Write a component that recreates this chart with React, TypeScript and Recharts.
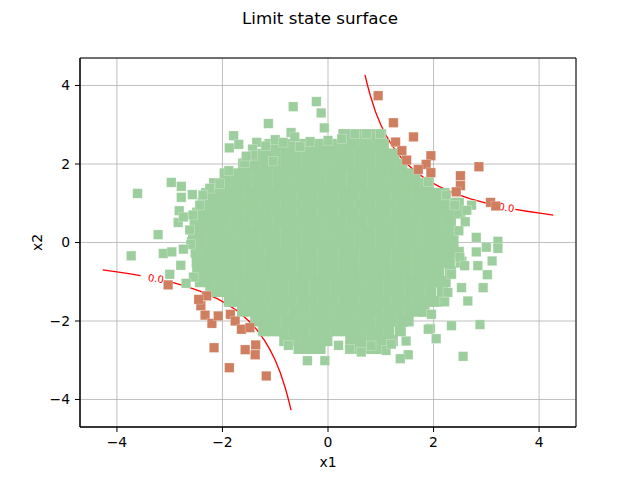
import React from "react";
import { ScatterChart, Scatter, XAxis, YAxis, CartesianGrid, ReferenceArea, ReferenceDot } from "recharts";

type Pt = { x: number; y: number };

const axisTicks = [-4, -2, 0, 2, 4];

// dense centre of the sample, one row per x2 level: [x2, x1 values]
const coreRows: [number, number[]][] = [
  [2.75, [0.3, 0.5, 0.7, 0.9, 1.0]],
  [2.5, [-1.1, -0.9, -0.7, -0.5, -0.3, -0.1, 0.1, 0.3, 0.5, 0.7, 0.9, 1.05]],
  [2.25, [-1.4, -1.2, -1.0, -0.8, -0.6, -0.4, -0.2, 0, 0.2, 0.4, 0.6, 0.8, 1.0, 1.2, 1.25]],
  [2.0, [-1.6, -1.4, -1.2, -1.0, -0.8, -0.6, -0.4, -0.2, 0, 0.2, 0.4, 0.6, 0.8, 1.0, 1.2, 1.4]],
  [1.75, [-1.95, -1.75, -1.55, -1.35, -1.15, -0.95, -0.75, -0.55, -0.35, -0.15, 0.05, 0.25, 0.45, 0.65, 0.85, 1.05, 1.25, 1.45, 1.65]],
  [1.5, [-2.15, -1.95, -1.75, -1.55, -1.35, -1.15, -0.95, -0.75, -0.55, -0.35, -0.15, 0.05, 0.25, 0.45, 0.65, 0.85, 1.05, 1.25, 1.45, 1.65, 1.85, 1.9]],
  [1.25, [-2.3, -2.1, -1.9, -1.7, -1.5, -1.3, -1.1, -0.9, -0.7, -0.5, -0.3, -0.1, 0.1, 0.3, 0.5, 0.7, 0.9, 1.1, 1.3, 1.5, 1.7, 1.9, 2.1, 2.2]],
  [1.0, [-2.37, -2.2, -2.0, -1.8, -1.6, -1.4, -1.2, -1.0, -0.8, -0.6, -0.4, -0.2, 0, 0.2, 0.4, 0.6, 0.8, 1.0, 1.2, 1.4, 1.6, 1.8, 2.0, 2.2, 2.4, 2.47]],
  [0.75, [-2.47, -2.3, -2.1, -1.9, -1.7, -1.5, -1.3, -1.1, -0.9, -0.7, -0.5, -0.3, -0.1, 0.1, 0.3, 0.5, 0.7, 0.9, 1.1, 1.3, 1.5, 1.7, 1.9, 2.1, 2.3, 2.5]],
  [0.5, [-2.52, -2.35, -2.15, -1.95, -1.75, -1.55, -1.35, -1.15, -0.95, -0.75, -0.55, -0.35, -0.15, 0.05, 0.25, 0.45, 0.65, 0.85, 1.05, 1.25, 1.45, 1.65, 1.85, 2.05, 2.25, 2.32]],
  [0.25, [-2.55, -2.4, -2.2, -2.0, -1.8, -1.6, -1.4, -1.2, -1.0, -0.8, -0.6, -0.4, -0.2, 0, 0.2, 0.4, 0.6, 0.8, 1.0, 1.2, 1.4, 1.6, 1.8, 2.0, 2.2, 2.37]],
  [0.0, [-2.57, -2.4, -2.2, -2.0, -1.8, -1.6, -1.4, -1.2, -1.0, -0.8, -0.6, -0.4, -0.2, 0, 0.2, 0.4, 0.6, 0.8, 1.0, 1.2, 1.4, 1.6, 1.8, 2.0, 2.2, 2.37]],
  [-0.25, [-2.5, -2.3, -2.1, -1.9, -1.7, -1.5, -1.3, -1.1, -0.9, -0.7, -0.5, -0.3, -0.1, 0.1, 0.3, 0.5, 0.7, 0.9, 1.1, 1.3, 1.5, 1.7, 1.9, 2.1, 2.3, 2.47]],
  [-0.5, [-2.48, -2.3, -2.1, -1.9, -1.7, -1.5, -1.3, -1.1, -0.9, -0.7, -0.5, -0.3, -0.1, 0.1, 0.3, 0.5, 0.7, 0.9, 1.1, 1.3, 1.5, 1.7, 1.9, 2.1, 2.3, 2.52]],
  [-0.75, [-2.47, -2.3, -2.1, -1.9, -1.7, -1.5, -1.3, -1.1, -0.9, -0.7, -0.5, -0.3, -0.1, 0.1, 0.3, 0.5, 0.7, 0.9, 1.1, 1.3, 1.5, 1.7, 1.9, 2.1, 2.32]],
  [-1.0, [-2.42, -2.25, -2.05, -1.85, -1.65, -1.45, -1.25, -1.05, -0.85, -0.65, -0.45, -0.25, -0.05, 0.15, 0.35, 0.55, 0.75, 0.95, 1.15, 1.35, 1.55, 1.75, 1.95, 2.15, 2.22]],
  [-1.25, [-2.22, -2.05, -1.85, -1.65, -1.45, -1.25, -1.05, -0.85, -0.65, -0.45, -0.25, -0.05, 0.15, 0.35, 0.55, 0.75, 0.95, 1.15, 1.35, 1.55, 1.75, 1.95, 2.17]],
  [-1.5, [-1.87, -1.7, -1.5, -1.3, -1.1, -0.9, -0.7, -0.5, -0.3, -0.1, 0.1, 0.3, 0.5, 0.7, 0.9, 1.1, 1.3, 1.5, 1.7, 1.9, 2.07]],
  [-1.75, [-1.62, -1.45, -1.25, -1.05, -0.85, -0.65, -0.45, -0.25, -0.05, 0.15, 0.35, 0.55, 0.75, 0.95, 1.15, 1.35, 1.55, 1.75, 1.82]],
  [-2.0, [-1.37, -1.2, -1.0, -0.8, -0.6, -0.4, -0.2, 0, 0.2, 0.4, 0.6, 0.8, 1.0, 1.2, 1.4, 1.52]],
  [-2.25, [-1.22, -1.05, -0.85, -0.65, -0.45, -0.25, -0.05, 0.15, 0.35, 0.55, 0.75, 0.95, 1.15, 1.37]],
  [-2.5, [-0.82, -0.62, -0.42, -0.22, -0.02, 0.43, 0.63, 0.83, 1.03, 1.22]],
  [-2.7, [-0.55, -0.35, -0.15, 0.5, 0.7, 0.9, 1.0]],
];

// scattered safe points around the centre [x1, x2]
const safeOuter: [number, number][] = [
  [-3.61, 1.25], [-3.22, 0.2], [-2.97, 1.53], [-2.78, 1.43], [-2.78, 1.15], [-2.57, 1.22], [-2.82, 0.81], [-2.84, 0.51], [-2.74, 0.65],
  [-1.87, 2.41], [-1.79, 2.72], [-1.69, 2.5], [-1.13, 3.03], [-0.66, 3.46], [-0.22, 3.59], [-0.13, 3.3], [-0.07, 2.92], [-0.7, 2.8],
  [-0.63, 2.69], [-1.35, 2.55], [-1.18, 2.46], [-1.43, 2.38], [-1.42, 2.22], [-1.58, 2.03], [-1.88, 1.83], [-1.04, 2.07], [-0.53, 2.44],
  [-0.34, 2.57], [0.0, 2.6], [0.26, 2.64], [0.51, 2.77], [0.73, 2.77], [0.99, 2.77],
  [-2.24, 1.38], [-2.05, 1.5], [-2.37, 1.21], [-2.43, 0.95], [-2.56, 0.7], [-2.62, 0.32], [-2.6, -0.05], [-2.55, -0.88],
  [-3.73, -0.34], [-3.12, -0.28], [-2.96, -0.24], [-2.74, -0.17], [-2.79, -0.58], [-3.0, -0.81], [-2.69, -1.04],
  [-0.39, -3.01], [-0.06, -3.01], [-0.75, -2.62], [0.2, -2.62], [1.1, -2.75],
  [2.81, 0.13], [3.22, 0.03], [2.72, 0.95], [2.6, 0.53], [2.63, 0.82], [2.4, 0.95], [2.24, 1.21], [1.9, 1.55], [2.48, 0.3], [2.5, -0.38],
  [2.56, -2.9], [2.88, -2.09], [2.34, -2.12], [2.05, -2.45], [1.94, -2.19], [1.52, -2.86], [1.37, -2.96], [1.48, -2.51],
  [0.63, -2.79], [0.41, -2.72], [0.82, -2.63], [1.2, -2.59], [2.65, -1.49], [2.21, -1.51], [2.94, -1.15], [3.02, -0.82],
  [3.11, -0.47], [2.81, -0.24], [3.22, -0.15], [3.0, -0.12], [2.53, -1.15], [2.34, -0.81], [2.84, -0.59], [2.59, -0.59],
  [2.27, -1.27], [1.96, -1.83], [1.9, -2.21], [-1.0, 2.62], [-0.85, 2.55], [-1.55, 2.2],
];

// failing points (x1 * x2 beyond the threshold)
const failPts: [number, number][] = [
  [0.95, 3.74], [1.24, 3.05], [1.62, 2.69], [1.28, 2.56], [1.4, 2.34], [1.49, 2.1], [1.95, 2.21], [1.86, 1.99], [1.95, 1.78],
  [1.71, 1.86], [2.86, 1.93], [2.51, 1.7], [2.51, 1.45], [2.43, 1.29], [3.08, 1.02], [3.18, 0.93],
  [-3.03, -1.08], [-2.3, -1.36], [-2.41, -1.61], [-2.33, -1.85], [-2.2, -2.06], [-2.08, -1.87], [-1.85, -1.83], [-1.76, -2.0],
  [-1.64, -2.21], [-1.48, -2.17], [-2.16, -2.68], [-1.87, -3.19], [-1.57, -2.73], [-1.37, -2.61], [-1.38, -2.86], [-1.17, -3.4],
  [-2.45, -1.45],
];

// limit state contour, split where the "0.0" labels sit
const contourA: [number, number][] = [
  [0.7, 4.27], [0.75, 4.0], [0.8, 3.75], [0.9, 3.33], [1.0, 3.0], [1.1, 2.73], [1.2, 2.5], [1.35, 2.22], [1.5, 2.0],
  [1.7, 1.76], [1.9, 1.58], [2.1, 1.43], [2.4, 1.25], [2.7, 1.11], [3.0, 1.0], [3.22, 0.93],
];
const contourB: [number, number][] = [[3.55, 0.845], [3.8, 0.79], [4.05, 0.74], [4.27, 0.7]];
const contourC: [number, number][] = [[-4.27, -0.7], [-4.0, -0.75], [-3.75, -0.8], [-3.55, -0.845]];
const contourD: [number, number][] = [
  [-2.95, -1.017], [-2.7, -1.11], [-2.4, -1.25], [-2.1, -1.43], [-1.9, -1.58], [-1.7, -1.76], [-1.5, -2.0], [-1.35, -2.22],
  [-1.2, -2.5], [-1.1, -2.73], [-1.0, -3.0], [-0.9, -3.33], [-0.8, -3.75], [-0.75, -4.0], [-0.7, -4.27],
];
const contourLabels: [number, number][] = [[3.38, 0.89], [-3.26, -0.92]];

const GREEN = "#9dce9d";
const RED = "#cf7f5f";
const FONT = "DejaVu Sans, sans-serif";

const toPts = (arr: [number, number][]): Pt[] => arr.map(([x, y]) => ({ x, y }));
const corePts: Pt[] = coreRows.flatMap(([y, xs]) => xs.map((x) => ({ x, y })));

const square = (fill: string, size: number, edge?: boolean) => (props: any) => {
  const { cx, cy } = props;
  if (cx == null || cy == null) return <g />;
  return (
    <rect x={cx - size / 2} y={cy - size / 2} width={size} height={size} fill={fill}
      stroke={edge ? "#fff" : "none"} strokeOpacity={0.35} strokeWidth={edge ? 0.7 : 0} />
  );
};

const noDot = () => <g />;
const minusFmt = (v: number) => (v < 0 ? `\u2212${-v}` : String(v));

const contourLabel = (props: any) => (
  <text x={props.cx} y={props.cy} dy="0.35em" textAnchor="middle" fill="red" fontSize={10} fontFamily={FONT}
    transform={`rotate(8.5 ${props.cx} ${props.cy})`}>0.0</text>
);

const yLabel = (props: any) => {
  const vb = props.viewBox || { x: 0, y: 58, width: 80, height: 369 };
  const cx = vb.x + 37;
  const cy = vb.y + vb.height / 2;
  return (
    <text x={cx} y={cy} dy="0.35em" textAnchor="middle" fontSize={13.9} fontFamily={FONT} fill="#000"
      transform={`rotate(-90 ${cx} ${cy})`}>x2</text>
  );
};

export default function App() {
  const lineStyle = { stroke: "red", strokeWidth: 1.3 };
  return (
    <div style={{ position: "absolute", left: 0, top: 0, width: 640, height: 480, background: "#fff" }}>
      <div style={{ position: "absolute", left: 0, top: 8, width: 640, height: 20, lineHeight: "20px", textAlign: "center",
        fontFamily: FONT, fontSize: 16.7, color: "#000" }}>Limit state surface</div>
      <ScatterChart width={640} height={480} margin={{ top: 58, right: 64, left: 0, bottom: 0 }}>
        <CartesianGrid stroke="#b0b0b0" strokeWidth={0.8} />
        <XAxis type="number" dataKey="x" domain={[-4.7, 4.7]} ticks={axisTicks} allowDataOverflow height={53}
          tickFormatter={minusFmt} tickSize={5} tickMargin={5} stroke="#000"
          tick={{ fill: "#000", fontSize: 13.9, fontFamily: FONT }}
          label={{ value: "x1", position: "insideBottom", offset: 13, fill: "#000", fontSize: 13.9, fontFamily: FONT }} />
        <YAxis type="number" dataKey="y" domain={[-4.7, 4.7]} ticks={axisTicks} allowDataOverflow width={80}
          tickFormatter={minusFmt} tickSize={5} tickMargin={5} stroke="#000"
          tick={{ fill: "#000", fontSize: 13.9, fontFamily: FONT }}
          label={{ content: yLabel }} />
        <Scatter data={toPts(contourA)} line={lineStyle} lineType="joint" shape={noDot} isAnimationActive={false} />
        <Scatter data={toPts(contourB)} line={lineStyle} lineType="joint" shape={noDot} isAnimationActive={false} />
        <Scatter data={toPts(contourC)} line={lineStyle} lineType="joint" shape={noDot} isAnimationActive={false} />
        <Scatter data={toPts(contourD)} line={lineStyle} lineType="joint" shape={noDot} isAnimationActive={false} />
        {contourLabels.map(([x, y], i) => (
          <ReferenceDot key={i} x={x} y={y} r={0} shape={contourLabel} />
        ))}
        <Scatter data={corePts} fill={GREEN} shape={square(GREEN, 11)} isAnimationActive={false} />
        <Scatter data={toPts(safeOuter)} fill={GREEN} shape={square(GREEN, 9.5, true)} isAnimationActive={false} />
        <Scatter data={toPts(failPts)} fill={RED} shape={square(RED, 9.5, true)} isAnimationActive={false} />
        <ReferenceArea x1={-4.7} x2={4.7} y1={-4.7} y2={4.7} fill="none" fillOpacity={0} stroke="#000" strokeWidth={1} />
      </ScatterChart>
    </div>
  );
}
